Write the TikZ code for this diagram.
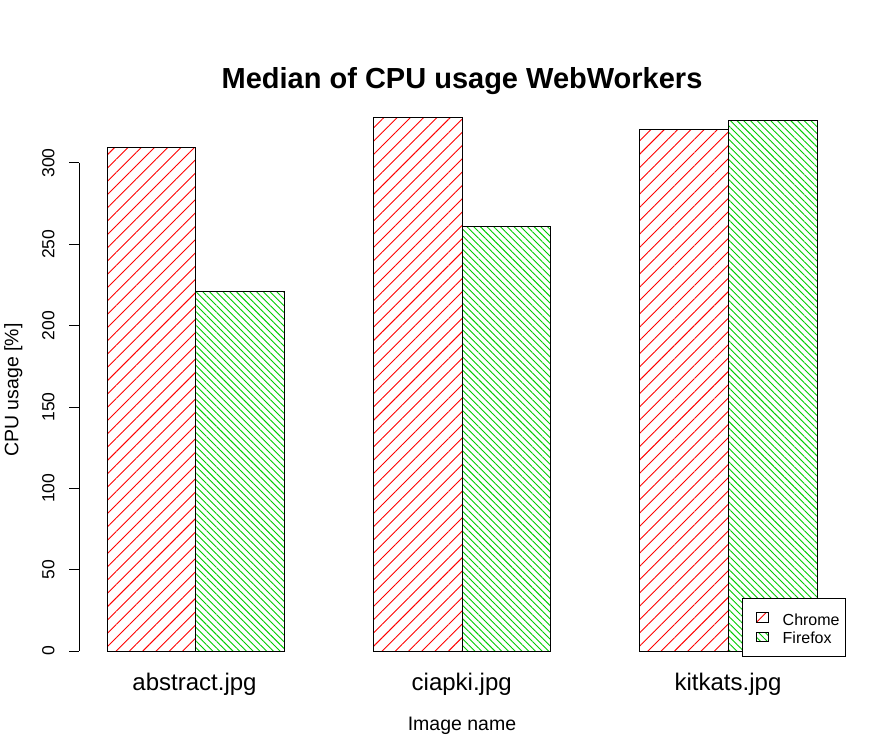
\documentclass[tikz,border=0pt]{standalone}
\usepackage{fontspec}
\setmainfont{Liberation Sans}
\usetikzlibrary{patterns.meta}
\definecolor{rgreen}{RGB}{0,205,0}

\begin{document}
\begin{tikzpicture}[x=1pt,y=1pt,
    chrome/.style={draw=black,line width=1pt,pattern={Lines[angle=45,distance=9.4pt,line width=0.9pt]},pattern color=red},
    firefox/.style={draw=black,line width=1pt,pattern={Lines[angle=-45,distance=4.75pt,line width=0.9pt]},pattern color=rgreen},
    ticklabel/.style={rotate=90,anchor=base,font=\fontsize{17.5}{20}\selectfont},
    barlabel/.style={anchor=base,font=\fontsize{24}{28}\selectfont}]
    \tikzstyle{every node}+=[inner sep=0pt]
    \useasboundingbox [fill=white] (0,0) rectangle (886,-754);
    % bars
    \draw [chrome] (107,-651) rectangle (195.3,-148);
    \draw [firefox] (195.3,-651) rectangle (284,-291);
    \draw [chrome] (373.3,-651) rectangle (462,-117.3);
    \draw [firefox] (462,-651) rectangle (550.3,-226.3);
    \draw [chrome] (639.3,-651) rectangle (728,-130);
    \draw [firefox] (728,-651) rectangle (817,-121);
    % y axis
    \draw [black,line width=1pt] (79,-163) -- (79,-651);
    \draw [black,line width=1pt] (69,-651) -- (79,-651);
    \draw [black,line width=1pt] (69,-569.7) -- (79,-569.7);
    \draw [black,line width=1pt] (69,-488.3) -- (79,-488.3);
    \draw [black,line width=1pt] (69,-407) -- (79,-407);
    \draw [black,line width=1pt] (69,-325.7) -- (79,-325.7);
    \draw [black,line width=1pt] (69,-244.3) -- (79,-244.3);
    \draw [black,line width=1pt] (69,-163) -- (79,-163);
    \node [ticklabel] (t0) at (54.3,-651) {0};
    \node [ticklabel] (t50) at (54.3,-569.7) {50};
    \node [ticklabel] (t100) at (54.3,-488.3) {100};
    \node [ticklabel] (t150) at (54.3,-407) {150};
    \node [ticklabel] (t200) at (54.3,-325.7) {200};
    \node [ticklabel] (t250) at (54.3,-244.3) {250};
    \node [ticklabel] (t300) at (54.3,-163) {300};
    % labels
    \node [barlabel] (abstract) at (194.5,-690) {abstract.jpg};
    \node [barlabel] (ciapki) at (461.7,-690) {ciapki.jpg};
    \node [barlabel] (kitkats) at (728,-690) {kitkats.jpg};
    \node [anchor=base,font=\fontsize{19.5}{23}\selectfont] (xname) at (462,-730) {Image name};
    \node [rotate=90,anchor=base,font=\fontsize{19.5}{23}\selectfont] (yname) at (18.3,-390) {CPU usage [\%]};
    \node [anchor=base,font=\fontsize{29}{35}\selectfont\bfseries] (title) at (462,-88.3) {Median of CPU usage WebWorkers};
    % legend
    \draw [black,line width=1pt,fill=white] (742.3,-598.3) rectangle (845.7,-656);
    \draw [chrome] (756.7,-612) rectangle (768.3,-622);
    \draw [firefox] (756.7,-632.7) rectangle (768.3,-641.7);
    \node [anchor=base west,font=\fontsize{16}{19}\selectfont] (lchrome) at (782.5,-625) {Chrome};
    \node [anchor=base west,font=\fontsize{16}{19}\selectfont] (lfirefox) at (782.5,-643.3) {Firefox};
\end{tikzpicture}
\end{document}
